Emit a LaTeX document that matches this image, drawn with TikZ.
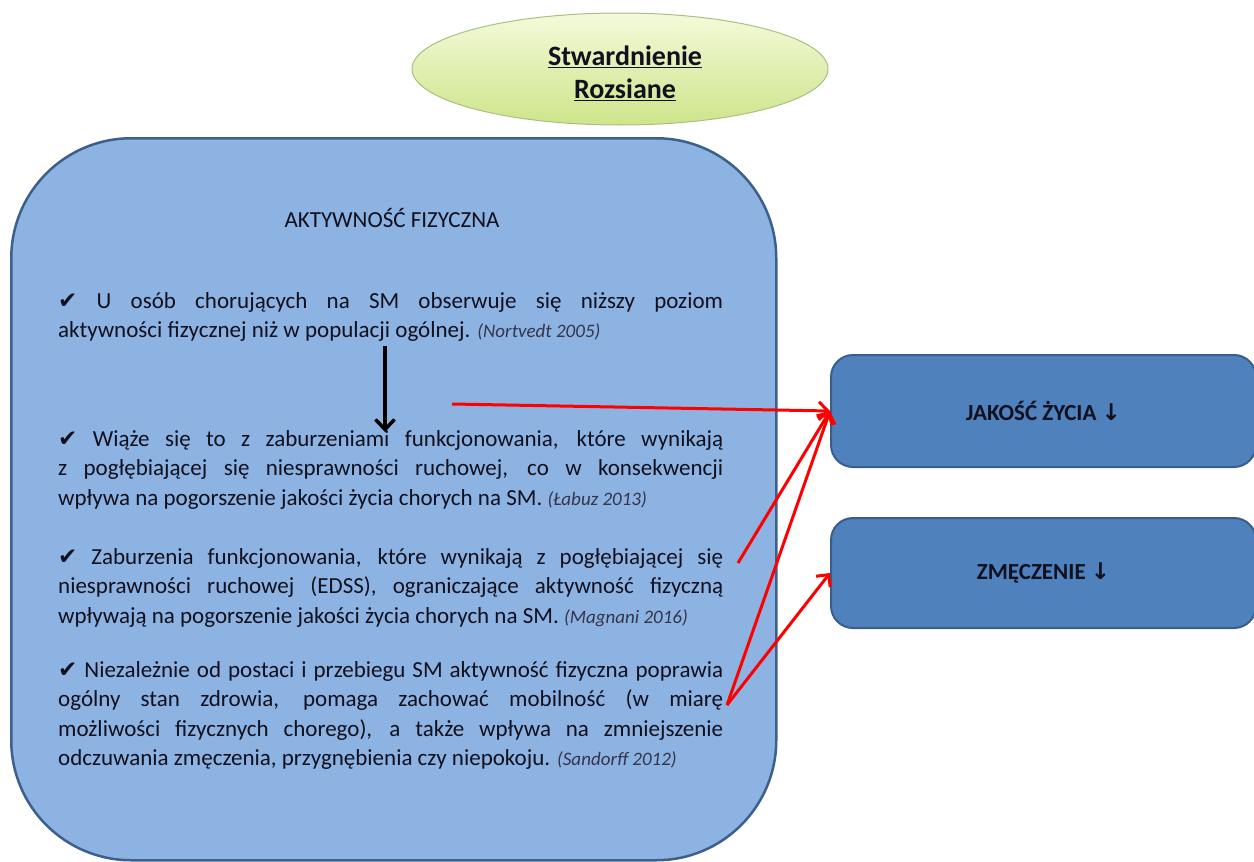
\documentclass[tikz,border=0pt]{standalone}
\usepackage{fontspec}
\setmainfont{Carlito}
\newfontfamily\dejavu{DejaVu Sans}
\usetikzlibrary{arrows.meta,shapes.geometric}

\definecolor{panelfill}{HTML}{8DB3E2}
\definecolor{panelline}{HTML}{3C5F8C}
\definecolor{boxfill}{HTML}{4F81BD}
\definecolor{boxline}{HTML}{3A5E8B}
\definecolor{txt}{HTML}{10101E}
\definecolor{citecol}{HTML}{34344A}
\definecolor{ellline}{HTML}{A9BF84}
\definecolor{elltop}{HTML}{F4FADA}
\definecolor{ellbot}{HTML}{CDE58A}
\definecolor{redline}{HTML}{FF0000}

\newcommand{\chk}{{\dejavu\fontsize{23}{23}\selectfont ✔}}
\newcommand{\citx}[1]{{\fontsize{19}{19}\selectfont\itshape\color{citecol}#1}}
\tolerance=10000
\hyphenpenalty=10000
\exhyphenpenalty=10000
\hbadness=10000

\tikzset{
  x=1pt, y=-1pt,
  panel/.style={draw=panelline, line width=2.5pt, fill=panelfill, rounded corners=120pt,
    anchor=north west, minimum width=765pt, minimum height=722pt, inner sep=0pt},
  rbox/.style={draw=boxline, line width=2pt, fill=boxfill, rounded corners=22pt,
    minimum width=425pt, inner sep=0pt, text=txt,
    font=\bfseries\fontsize{23}{27}\selectfont},
  para/.style={anchor=base west, text width=665pt, align=justify, inner sep=0pt, text=txt,
    font=\fontsize{23}{29.5}\selectfont},
  redarrow/.style={draw=redline, line width=3pt, -{Straight Barb[length=9pt,width=18pt]}},
  blackarrow/.style={draw=black, line width=3.5pt, -{Straight Barb[length=10pt,width=19pt]}},
}

\begin{document}
\begin{tikzpicture}
\useasboundingbox (0,0) rectangle (1254,862);

% ellipse title
\node[ellipse, draw=ellline, line width=1pt, top color=elltop, bottom color=ellbot,
      minimum width=416pt, minimum height=112pt, inner sep=0pt] (sr) at (620,69) {};
\node[align=center, text=txt, font=\bfseries\fontsize{28}{33}\selectfont] (srtext) at (625,73)
  {\underline{Stwardnienie}\\\underline{Rozsiane}};

% main panel
\node[panel] (panel) at (10,137) {};

\node[text=txt, font=\fontsize{23}{27}\selectfont] (title) at (392,218) {AKTYWNOŚĆ FIZYCZNA};

\node[para] (b1) at (58,308) {\chk{} U osób chorujących na SM obserwuje się niższy poziom\linebreak aktywności fizycznej niż w populacji ogólnej. \citx{(Nortvedt 2005)}};

\node[para] (b2) at (58,446) {\chk{} Wiąże się to z zaburzeniami funkcjonowania, które wynikają\linebreak z pogłębiającej się niesprawności ruchowej, co w konsekwencji\linebreak wpływa na pogorszenie jakości życia chorych na SM. \citx{(Łabuz 2013)}};

\node[para] (b3) at (58,564) {\chk{} Zaburzenia funkcjonowania, które wynikają z pogłębiającej się\linebreak niesprawności ruchowej (EDSS), ograniczające aktywność fizyczną\linebreak wpływają na pogorszenie jakości życia chorych na SM. \citx{(Magnani 2016)}};

\node[para] (b4) at (58,677) {\chk{} Niezależnie od postaci i przebiegu SM aktywność fizyczna poprawia\linebreak ogólny stan zdrowia, pomaga zachować mobilność (w miarę\linebreak możliwości fizycznych chorego), a także wpływa na zmniejszenie\linebreak odczuwania zmęczenia, przygnębienia czy niepokoju. \citx{(Sandorff 2012)}};

% right boxes
\node[rbox, minimum height=112pt] (jak) at (1043.5,411) {JAKOŚĆ ŻYCIA {\dejavu ↓}};
\node[rbox, minimum height=110pt] (zm) at (1043.5,573) {ZMĘCZENIE {\dejavu ↓}};

% connectors
\coordinate (ba1) at (385,346);
\coordinate (ba2) at (385,432);
\draw[blackarrow] (ba1) -- (ba2);

\coordinate (r1) at (452,404);
\coordinate (r2) at (738,563);
\coordinate (r3) at (727,705);
\draw[redarrow] (r1) -- (jak.west);
\draw[redarrow] (r2) -- (jak.west);
\draw[redarrow] (r3) -- (jak.west);
\draw[redarrow] (r3) -- (zm.west);
\end{tikzpicture}
\end{document}
